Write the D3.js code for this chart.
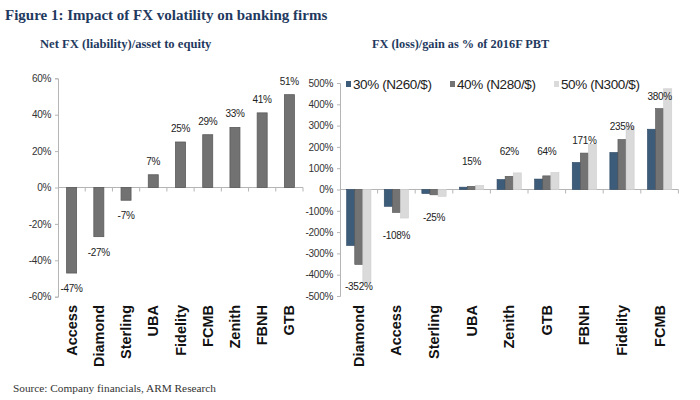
<!DOCTYPE html>
<html>
<head>
<meta charset="utf-8">
<script src="https://cdnjs.cloudflare.com/ajax/libs/d3/7.8.5/d3.min.js"></script>
<style>
  body { margin: 0; background: #fff; }
  svg text { font-family: "Liberation Sans", Arial, sans-serif; }
  .serif { font-family: "Liberation Serif", "Times New Roman", serif !important; }
</style>
</head>
<body>
<svg id="chart" width="700" height="400"></svg>
<script>
//---------------- data ----------------//
const leftBanks = ["Access", "Diamond", "Sterling", "UBA", "Fidelity", "FCMB", "Zenith", "FBNH", "GTB"];
const leftValues = [-47, -27, -7, 7, 25, 29, 33, 41, 51];
const leftTicks = [-60, -40, -20, 0, 20, 40, 60];

const rightBanks = ["Diamond", "Access", "Sterling", "UBA", "Zenith", "GTB", "FBNH", "Fidelity", "FCMB"];
const seriesNames = ["30% (N260/$)", "40% (N280/$)", "50% (N300/$)"];
const series30 = [-263, -79, -19, 11, 47, 49, 127, 174, 283];
const series40 = [-352, -108, -25, 15, 62, 64, 171, 235, 380];
const series50 = [-439, -134, -32, 19, 78, 80, 212, 295, 473];
const rightTicks = [-500, -400, -300, -200, -100, 0, 100, 200, 300, 400, 500];

const navy = "#1f3a60";
const seriesFill = ["#3d5c7a", "#737373", "#dadada"];
const seriesStroke = ["#2c4762", "#555555", "#cfcfcf"];

const svg = d3.select("#chart");

// titles
svg.append("text").attr("class", "serif")
  .attr("x", 5).attr("y", 20)
  .attr("fill", navy).attr("font-size", 15).attr("font-weight", "bold")
  .text("Figure 1: Impact of FX volatility on banking firms");

svg.append("text").attr("class", "serif")
  .attr("x", 40).attr("y", 48)
  .attr("fill", navy).attr("font-size", 12.6).attr("font-weight", "bold")
  .text("Net FX (liability)/asset to equity");

svg.append("text").attr("class", "serif")
  .attr("x", 372).attr("y", 48)
  .attr("fill", navy).attr("font-size", 12.3).attr("font-weight", "bold")
  .text("FX (loss)/gain as % of 2016F PBT");

svg.append("text").attr("class", "serif")
  .attr("x", 13).attr("y", 392)
  .attr("fill", "#333").attr("font-size", 11.3)
  .text("Source: Company financials, ARM Research");

// helper: draws y axis + x baseline with category ticks
function drawFrame(g, x, y, ticks, cats) {
  const yAxis = g.append("g")
    .attr("transform", `translate(${x.range()[0]},0)`)
    .call(d3.axisLeft(y).tickValues(ticks).tickSize(3).tickPadding(4).tickFormat(d => d + "%"));
  yAxis.select(".domain").attr("stroke", "#b5b5b5");
  yAxis.selectAll(".tick line").attr("stroke", "#b5b5b5");
  yAxis.selectAll("text").attr("font-size", 10).attr("fill", "#333").attr("letter-spacing", -0.3);

  // zero baseline
  g.append("line")
    .attr("x1", x.range()[0]).attr("x2", x.range()[1])
    .attr("y1", y(0)).attr("y2", y(0))
    .attr("stroke", "#b5b5b5");

  // category boundary ticks below baseline
  g.selectAll(".cattick").data(cats).enter().append("line")
    .attr("x1", d => x(d) + x.step()).attr("x2", d => x(d) + x.step())
    .attr("y1", y(0)).attr("y2", y(0) + 4)
    .attr("stroke", "#b5b5b5");

  // rotated category labels
  g.selectAll(".catlab").data(cats).enter().append("text")
    .attr("transform", d => `translate(${x(d) + x.step() / 2 + 5},305) rotate(-90)`)
    .attr("text-anchor", "end")
    .attr("font-size", 14.5).attr("font-weight", "bold").attr("fill", "#111")
    .text(d => d);
}

//-------------- left chart --------------//
const left = svg.append("g");
const xL = d3.scaleBand().domain(leftBanks).range([58, 303]).paddingInner(0).paddingOuter(0);
const yL = d3.scaleLinear().domain([-60, 60]).range([296.7, 78.3]);

drawFrame(left, xL, yL, leftTicks, leftBanks);

const barW = 10;
left.selectAll(".bar").data(leftBanks).enter().append("rect")
  .attr("x", d => xL(d) + xL.step() / 2 - barW / 2)
  .attr("y", (d, i) => yL(Math.max(0, leftValues[i])))
  .attr("width", barW)
  .attr("height", (d, i) => Math.abs(yL(leftValues[i]) - yL(0)))
  .attr("fill", "#727272").attr("stroke", "#5a5a5a").attr("stroke-width", 0.8);

left.selectAll(".lab").data(leftBanks).enter().append("text")
  .attr("x", d => xL(d) + xL.step() / 2)
  .attr("y", (d, i) => leftValues[i] >= 0 ? yL(leftValues[i]) - 10 : yL(leftValues[i]) + 19)
  .attr("text-anchor", "middle")
  .attr("font-size", 10).attr("fill", "#222").attr("letter-spacing", -0.3)
  .text((d, i) => leftValues[i] + "%");

//-------------- right chart --------------//
const right = svg.append("g");
const xR = d3.scaleBand().domain(rightBanks).range([340, 678.4]).paddingInner(0).paddingOuter(0);
const yR = d3.scaleLinear().domain([-500, 500]).range([296, 83]);
const allSeries = [series30, series40, series50];
const xSub = d3.scaleBand().domain([0, 1, 2]).range([0, 24.3]);

drawFrame(right, xR, yR, rightTicks, rightBanks);

allSeries.forEach((vals, s) => {
  right.selectAll(".bar" + s).data(rightBanks).enter().append("rect")
    .attr("x", d => xR(d) + xR.step() / 2 - 12.15 + xSub(s))
    .attr("y", (d, i) => yR(Math.max(0, vals[i])))
    .attr("width", xSub.bandwidth())
    .attr("height", (d, i) => Math.abs(yR(vals[i]) - yR(0)))
    .attr("fill", seriesFill[s]).attr("stroke", seriesStroke[s]).attr("stroke-width", 0.6);
});

// labels follow the 40% scenario
right.selectAll(".rlab").data(rightBanks).enter().append("text")
  .attr("x", d => xR(d) + xR.step() / 2)
  .attr("y", (d, i) => {
    const v = series40[i];
    if (v < 0) return yR(v) + 26;
    return v > 100 ? yR(v) - 9 : yR(v) - 21;
  })
  .attr("text-anchor", "middle")
  .attr("font-size", 10).attr("fill", "#222").attr("letter-spacing", -0.3)
  .text((d, i) => series40[i] + "%");

// legend
const legendX = [346, 450, 554];
const legend = right.selectAll(".leg").data(seriesNames).enter().append("g")
  .attr("transform", (d, i) => `translate(${legendX[i]},84)`);
legend.append("rect")
  .attr("x", 0).attr("y", -3).attr("width", 5).attr("height", 6)
  .attr("fill", (d, i) => seriesFill[i]);
legend.append("text")
  .attr("x", 7).attr("y", 5)
  .attr("font-size", 13.5).attr("fill", "#222").attr("letter-spacing", -0.4)
  .text(d => d);
</script>
</body>
</html>
